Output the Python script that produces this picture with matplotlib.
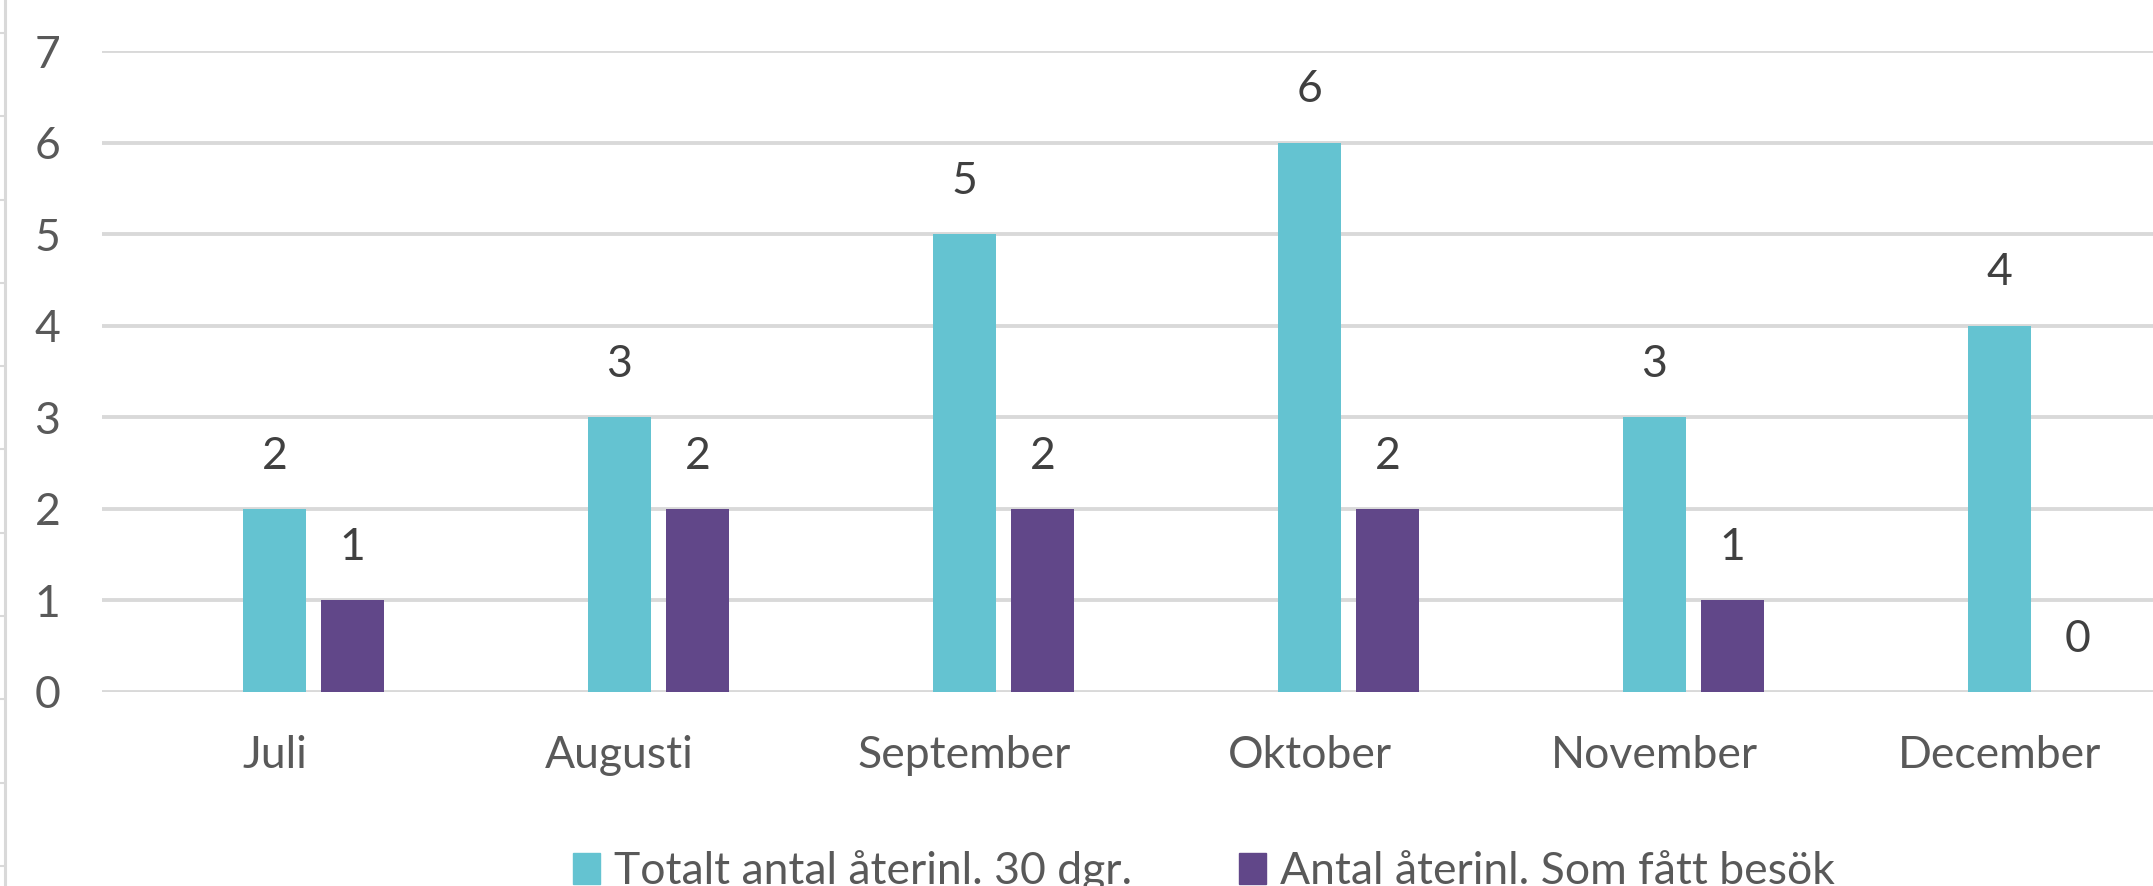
import matplotlib
matplotlib.use('Agg')
import matplotlib.pyplot as plt
import numpy as np
from matplotlib.lines import Line2D
from matplotlib.patches import Patch

# ---- data ----
months = ['Juli', 'Augusti', 'September', 'Oktober', 'November', 'December']
totalt = [2, 3, 5, 6, 3, 4]
besok = [1, 2, 2, 2, 1, 0]
series_names = ['Totalt antal återinl. 30 dgr.', 'Antal återinl. Som fått besök']
yticks = [0, 1, 2, 3, 4, 5, 6, 7]

# ---- style ----
TEAL = '#64C3D1'
PURPLE = '#614789'
GRID = '#D9D9D9'
TXT = '#595959'
LBL = '#404040'
FS = 32

plt.rcParams['font.family'] = ['Lato', 'DejaVu Sans']

W, H = 2153, 886
fig = plt.figure(figsize=(W / 100, H / 100), dpi=100)
fig.patch.set_facecolor('white')

ax = fig.add_axes([102 / W, (H - 692) / H, (W - 102) / W, (692 - 51) / H])
x = np.arange(len(months))
bw = 0.18
off = 0.226
b1 = ax.bar(x, totalt, bw, color=TEAL, zorder=3)
b2 = ax.bar(x + off, besok, bw, color=PURPLE, zorder=3)

ax.set_xlim(-0.5, -0.5 + (W - 102) / 345)
ax.set_ylim(0, 7)
ax.set_yticks(yticks)
ax.set_xticks(x)
ax.set_xticklabels(months)

ax.yaxis.grid(True, color=GRID, linewidth=2.8, zorder=0)
ax.set_axisbelow(True)
for s in ax.spines.values():
    s.set_visible(False)
ax.tick_params(axis='y', length=0, pad=30, labelsize=FS, labelcolor=TXT)
ax.tick_params(axis='x', length=0, pad=31, labelsize=FS, labelcolor=TXT)

for bars, vals in ((b1, totalt), (b2, besok)):
    for r, v in zip(bars, vals):
        ax.annotate(str(v), (r.get_x() + r.get_width() / 2, v),
                    xytext=(0, 29), textcoords='offset points',
                    ha='center', va='baseline', fontsize=FS, color=LBL)

handles = [Patch(color=TEAL), Patch(color=PURPLE)]
ax.legend(handles, series_names, loc='lower left',
          bbox_to_anchor=(573 / W, -6 / H), bbox_transform=fig.transFigure,
          frameon=False, fontsize=FS, labelcolor=TXT, ncol=2,
          handlelength=0.6, handleheight=0.67, handletextpad=0.33,
          columnspacing=2.4, borderpad=0, borderaxespad=0)

# faint border of neighbouring element at left edge
fig.add_artist(Line2D([5 / W, 5 / W], [0, 1], color=GRID, lw=2.2,
                      transform=fig.transFigure))
for ty in np.arange(33, H, 83.3):
    fig.add_artist(Line2D([0, 5 / W], [1 - ty / H, 1 - ty / H], color=GRID,
                          lw=1.5, transform=fig.transFigure))

fig.savefig('out.png', dpi=100, facecolor='white')
